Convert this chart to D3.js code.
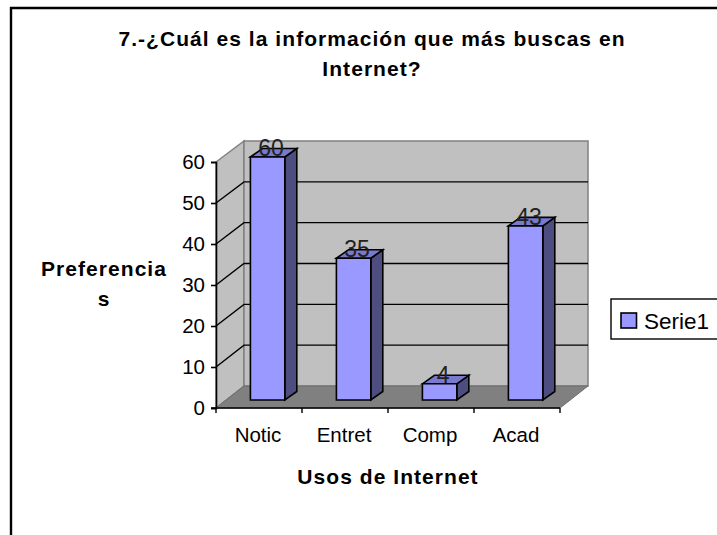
<!DOCTYPE html>
<html><head><meta charset="utf-8">
<style>html,body{margin:0;padding:0;background:#fff}svg{display:block}text{font-family:"Liberation Sans",Arial,sans-serif;fill:#000}</style>
<script src="https://cdn.jsdelivr.net/npm/d3@7"></script></head>
<body><svg id="c" width="717" height="535"></svg>
<script>
const categories=["Notic","Entret","Comp","Acad"];
const values=[60,35,4,43];
const yTicks=[0,10,20,30,40,50,60];
const titleLines=["7.-¿Cuál es la información que más buscas en","Internet?"];
const yTitleLines=["Preferencia","s"];
const xTitle="Usos de Internet";
const seriesName="Serie1";

const svg=d3.select("#c");
const dx=28,dy=22,left=216,right=560;
const yFront=d3.scaleLinear().domain([0,60]).range([408,162]);
const yBack=d3.scaleLinear().domain([0,60]).range([386,141]);
const yBar=d3.scaleLinear().domain([0,60]).range([400,157]);
const xAxis=d3.scaleBand().domain(categories).range([left,right]);
const xBar=d3.scaleBand().domain(categories).range([left+8.6,right+8.6]).paddingInner(.6).paddingOuter(.3);
const poly=p=>p.map(a=>a.join(",")).join(" ");

// frame
svg.append("path").attr("d","M11,535V8H717").attr("fill","none").attr("stroke","#000").attr("stroke-width",2.4);

// walls
svg.append("polygon").attr("points",poly([[left,yFront(60)],[left+dx,yBack(60)],[left+dx,yBack(0)],[left,yFront(0)]])).attr("fill","#c0c0c0").attr("stroke","#808080").attr("stroke-width",1.5);
svg.append("polygon").attr("points",poly([[left+dx,yBack(60)],[right+dx,yBack(60)],[right+dx,yBack(0)],[left+dx,yBack(0)]])).attr("fill","#c0c0c0").attr("stroke","#808080").attr("stroke-width",1.5);
svg.append("polygon").attr("points",poly([[left,yFront(0)],[left+dx,yBack(0)],[right+dx,yBack(0)],[right,yFront(0)]])).attr("fill","#808080").attr("stroke","#6e6e6e").attr("stroke-width",1);

// gridlines
yTicks.filter(t=>t>0&&t<60).forEach(t=>{
  svg.append("polyline").attr("points",poly([[left,yFront(t)],[left+dx,yBack(t)],[right+dx,yBack(t)]])).attr("fill","none").attr("stroke","#000").attr("stroke-width",1.4);
});

// axes
svg.append("g").attr("transform",`translate(${left},0)`)
  .call(d3.axisLeft(yFront).tickValues(yTicks).tickSize(5).tickPadding(6))
  .call(g=>{g.selectAll("text").attr("font-size",20.5).style("font-family","inherit");g.selectAll("line,path").attr("stroke","#000").attr("stroke-width",1.6)});
const xg=svg.append("g").attr("transform",`translate(0,${yFront(0)})`);
xg.append("line").attr("x1",left-5).attr("x2",right).attr("stroke","#000").attr("stroke-width",1.6);
[...categories.map(c=>xAxis(c)),right].forEach(x=>{
  xg.append("line").attr("x1",x).attr("x2",x).attr("y1",0).attr("y2",5).attr("stroke","#000").attr("stroke-width",1.4);
});
xg.selectAll("text").data(categories).join("text")
  .attr("x",d=>xAxis(d)+xAxis.bandwidth()/2-1).attr("y",34).attr("text-anchor","middle").attr("font-size",20.5).text(d=>d);

// bars
const bd=12,bh=8.5,w=xBar.bandwidth();
const bars=svg.append("g").selectAll("g").data(categories.map((c,i)=>({c,v:values[i]}))).join("g");
bars.each(function(d){
  const g=d3.select(this),x=xBar(d.c),t=yBar(d.v),b=yBar(0);
  const s={stroke:"#000","stroke-width":1.6,"stroke-linejoin":"miter"};
  const add=(pts,f)=>{const p=g.append("polygon").attr("points",poly(pts)).attr("fill",f);Object.entries(s).forEach(([k,v])=>p.attr(k,v));};
  add([[x+w,t],[x+w+bd,t-bh],[x+w+bd,b-bh],[x+w,b]],"#4d4d80");
  add([[x,t],[x+bd,t-bh],[x+w+bd,t-bh],[x+w,t]],"#7a7acc");
  add([[x,t],[x+w,t],[x+w,b],[x,b]],"#9999ff");
  g.append("text").attr("x",x+w/2+3.5).attr("y",t-1).attr("text-anchor","middle").attr("font-size",23).style("fill","#222").text(d.v);
});

// titles
const ls="1.05px";
svg.selectAll("text.t").data(titleLines).join("text").attr("class","t").style("letter-spacing",ls)
  .attr("x",372).attr("y",(d,i)=>46+i*30).attr("text-anchor","middle").attr("font-size",21).attr("font-weight","bold").text(d=>d);
svg.selectAll("text.yt").data(yTitleLines).join("text").attr("class","yt").style("letter-spacing",ls)
  .attr("x",104).attr("y",(d,i)=>276+i*30).attr("text-anchor","middle").attr("font-size",21).attr("font-weight","bold").text(d=>d);
svg.append("text").style("letter-spacing",ls).attr("x",388).attr("y",484).attr("text-anchor","middle").attr("font-size",21).attr("font-weight","bold").text(xTitle);

// legend
const lg=svg.append("g");
lg.append("rect").attr("x",611).attr("y",299).attr("width",108).attr("height",40).attr("fill","#fff").attr("stroke","#000").attr("stroke-width",1.4);
lg.append("rect").attr("x",621).attr("y",313).attr("width",15.5).attr("height",15).attr("fill","#9999ff").attr("stroke","#000").attr("stroke-width",1.6);
lg.append("text").attr("x",644).attr("y",329).attr("font-size",22.5).text(seriesName);
</script></body></html>
